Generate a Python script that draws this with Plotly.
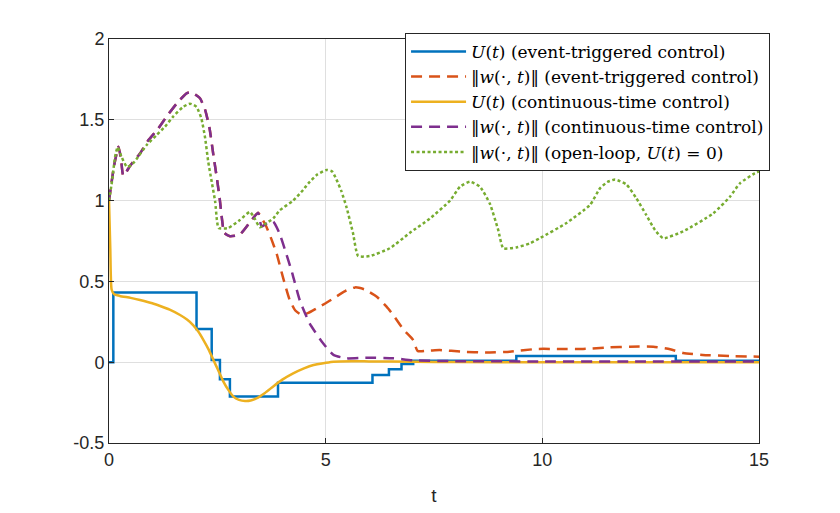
import plotly.graph_objects as go

# U(t), event-triggered control (piecewise constant)
t_u_evt = [0, 0.1, 2.02, 2.37, 2.56, 2.79, 3.9, 6.08, 6.46, 6.75, 7.02, 9.4, 13.08, 15]
u_evt = [0, 0.432, 0.205, 0.014, -0.106, -0.213, -0.127, -0.079, -0.044, -0.011, 0.009, 0.038, 0.009, 0.009]

# ||w(.,t)||, event-triggered control
t_w_evt = [0, 0.12, 0.22, 0.28, 0.33, 0.5, 0.71, 0.9, 1.14, 1.33, 1.56, 1.79, 1.9, 2.1, 2.22, 2.32,
           2.41, 2.49, 2.56, 2.61, 2.66, 2.79, 3.02, 3.29, 3.44, 3.55, 3.63, 3.75, 3.87, 4.02, 4.17,
           4.3, 4.45, 4.6, 4.79, 5.0, 5.18, 5.45, 5.68, 5.9, 6.18, 6.4, 6.56, 6.8, 7.02, 7.12, 7.4,
           7.63, 8.16, 8.7, 9.25, 9.87, 10.4, 10.94, 11.56, 12.02, 12.56, 12.95, 13.25, 13.7, 14.33, 15]
w_evt = [1.0, 1.22, 1.334, 1.25, 1.154, 1.22, 1.29, 1.37, 1.447, 1.52, 1.6, 1.664, 1.67, 1.633, 1.56, 1.447,
         1.28, 1.138, 1.0, 0.88, 0.8, 0.78, 0.79, 0.88, 0.925, 0.88, 0.84, 0.76, 0.67, 0.52, 0.385,
         0.32, 0.292, 0.305, 0.333, 0.365, 0.395, 0.44, 0.463, 0.45, 0.405, 0.345, 0.292, 0.2, 0.137, 0.07, 0.072,
         0.075, 0.065, 0.06, 0.065, 0.082, 0.082, 0.082, 0.092, 0.096, 0.096, 0.08, 0.057, 0.045, 0.038, 0.034]

# U(t), continuous-time control
t_u_ct = [0, 0.03, 0.06, 0.12, 0.25, 0.5, 0.715, 1.0, 1.18, 1.4, 1.64, 1.8, 1.94, 2.06, 2.18, 2.3, 2.41,
          2.52, 2.64, 2.75, 2.87, 3.0, 3.14, 3.27, 3.4, 3.6, 3.79, 4.0, 4.25, 4.5, 4.72, 5.0, 5.18, 5.6,
          6.0, 7, 8, 10, 12, 15]
u_ct = [1.0, 0.7, 0.45, 0.42, 0.41, 0.398, 0.385, 0.365, 0.348, 0.325, 0.292, 0.264, 0.23, 0.19, 0.137, 0.078, 0.014,
        -0.05, -0.12, -0.17, -0.213, -0.233, -0.24, -0.237, -0.224, -0.19, -0.15, -0.108, -0.069, -0.038, -0.017, -0.004, 0.003, 0.006,
        0.005, 0.003, 0.001, 0, 0, 0]

# ||w(.,t)||, continuous-time control
t_w_ct = [0, 0.12, 0.22, 0.28, 0.33, 0.5, 0.71, 0.9, 1.14, 1.33, 1.56, 1.79, 1.9, 2.1, 2.22, 2.32,
          2.41, 2.49, 2.56, 2.61, 2.66, 2.79, 3.02, 3.29, 3.44, 3.52, 3.65, 3.79, 3.93, 4.08, 4.23, 4.4,
          4.63, 4.94, 5.18, 5.48, 5.94, 6.56, 7.0, 8.0, 10.0, 12.0, 15.0]
w_ct = [1.0, 1.22, 1.334, 1.25, 1.154, 1.22, 1.29, 1.37, 1.447, 1.52, 1.6, 1.664, 1.67, 1.633, 1.56, 1.447,
        1.28, 1.138, 1.0, 0.88, 0.8, 0.78, 0.79, 0.88, 0.925, 0.84, 0.86, 0.87, 0.8, 0.68, 0.55, 0.385,
        0.24, 0.117, 0.045, 0.024, 0.028, 0.024, 0.012, 0.006, 0.005, 0.005, 0.005]

# ||w(.,t)||, open loop
t_w_ol = [0, 0.07, 0.14, 0.2, 0.29, 0.41, 0.52, 0.67, 0.87, 1.1, 1.29, 1.48, 1.71, 1.87, 2.02, 2.13, 2.22,
          2.29, 2.37, 2.45, 2.49, 2.53, 2.75, 3.02, 3.25, 3.36, 3.48, 3.63, 3.79, 3.94, 4.25, 4.48, 4.6,
          4.8, 5.02, 5.15, 5.25, 5.36, 5.48, 5.63, 5.75, 6.02, 6.48, 6.94, 7.41, 7.87, 8.1, 8.33, 8.56,
          8.79, 8.98, 9.1, 9.4, 9.71, 9.94, 10.55, 11.1, 11.33, 11.5, 11.68, 11.94, 12.17, 12.4, 12.6,
          12.79, 13.25, 13.94, 14.33, 14.56, 14.9, 15]
w_ol = [1.0, 1.12, 1.27, 1.33, 1.27, 1.21, 1.22, 1.27, 1.344, 1.406, 1.457, 1.52, 1.58, 1.6, 1.58, 1.51, 1.385,
        1.24, 1.117, 0.993, 0.88, 0.83, 0.83, 0.88, 0.93, 0.89, 0.835, 0.86, 0.89, 0.94, 1.0, 1.066, 1.107,
        1.16, 1.19, 1.18, 1.13, 1.06, 0.96, 0.8, 0.657, 0.657, 0.705, 0.8, 0.89, 1.0, 1.086, 1.117, 1.086,
        0.98, 0.82, 0.705, 0.71, 0.735, 0.767, 0.86, 0.973, 1.076, 1.115, 1.13, 1.1, 1.014, 0.91, 0.818,
        0.767, 0.81, 0.92, 1.024, 1.107, 1.169, 1.18]

names = [
    "<i>U</i>(<i>t</i>) (event-triggered control)",
    "‖<i>w</i>(·, <i>t</i>)‖ (event-triggered control)",
    "<i>U</i>(<i>t</i>) (continuous-time control)",
    "‖<i>w</i>(·, <i>t</i>)‖ (continuous-time control)",
    "‖<i>w</i>(·, <i>t</i>)‖ (open-loop, <i>U</i>(<i>t</i>) = 0)",
]

fig = go.Figure()
fig.add_trace(go.Scatter(x=t_u_evt, y=u_evt, mode="lines", name=names[0],
                         line=dict(color="#0072BD", width=2.5, shape="hv")))
fig.add_trace(go.Scatter(x=t_w_evt, y=w_evt, mode="lines", name=names[1],
                         line=dict(color="#D95319", width=2.5, dash="11px,7px", shape="spline", smoothing=0.5)))
fig.add_trace(go.Scatter(x=t_u_ct, y=u_ct, mode="lines", name=names[2],
                         line=dict(color="#EDB120", width=2.5, shape="spline", smoothing=0.5)))
fig.add_trace(go.Scatter(x=t_w_ct, y=w_ct, mode="lines", name=names[3],
                         line=dict(color="#7E2F8E", width=2.5, dash="11px,7px", shape="spline", smoothing=0.5)))
fig.add_trace(go.Scatter(x=t_w_ol, y=w_ol, mode="lines", name=names[4],
                         line=dict(color="#77AC30", width=2.5, dash="3px,2.5px", shape="spline", smoothing=0.5)))

axis_common = dict(showline=True, linecolor="#262626", linewidth=1, mirror=True,
                   ticks="inside", ticklen=5, tickcolor="#262626",
                   showgrid=True, gridcolor="#dfdfdf", gridwidth=1, zeroline=False,
                   tickfont=dict(family="Liberation Sans, Arial", size=18, color="#262626"))

fig.update_layout(
    width=840, height=513,
    margin=dict(l=101, r=89, t=31, b=78),
    paper_bgcolor="white", plot_bgcolor="white",
    xaxis=dict(range=[0, 15], tickvals=[0, 5, 10, 15], ticktext=["0", "5", "10", "15"],
               title=dict(text="t", font=dict(family="Liberation Sans, Arial", size=19, color="#262626"), standoff=20),
               **axis_common),
    yaxis=dict(range=[-0.5, 2], tickvals=[-0.5, 0, 0.5, 1, 1.5, 2],
               ticktext=["-0.5", "0", "0.5", "1", "1.5", "2"], **axis_common),
    legend=dict(x=1.017, y=1.015, xanchor="right", yanchor="top",
                bgcolor="white", bordercolor="#262626", borderwidth=1,
                font=dict(family="DejaVu Serif", size=17, color="black"),
                itemwidth=55, tracegroupgap=0),
    showlegend=True,
)

fig.write_html("out.html")
